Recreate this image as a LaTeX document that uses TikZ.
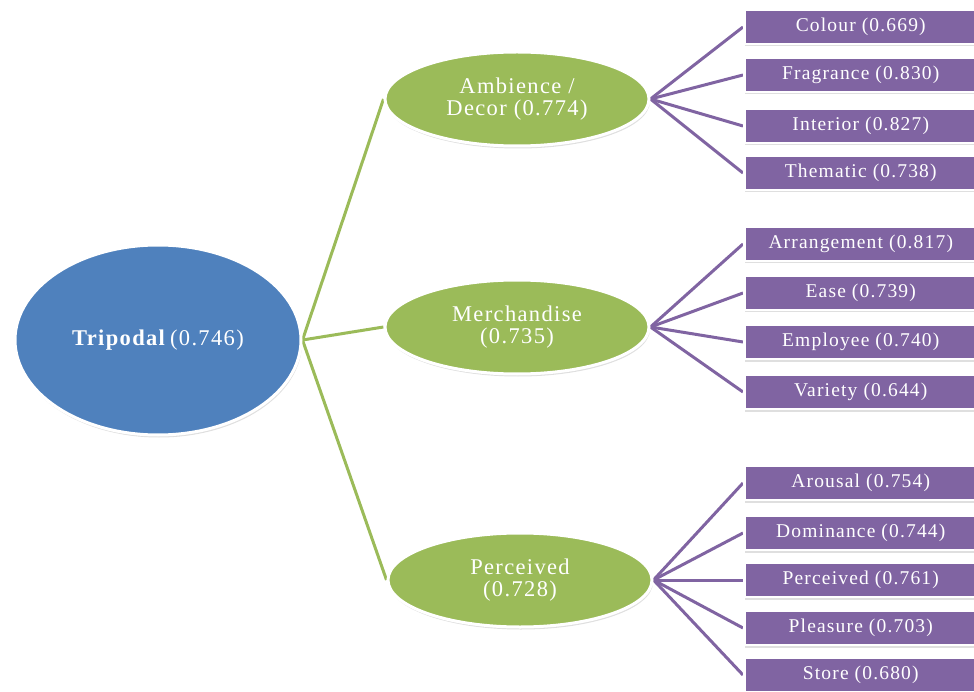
\documentclass[tikz,border=0pt]{standalone}
\usepackage{fontspec}
\setmainfont{Liberation Serif}[LetterSpace=6]
\usetikzlibrary{shapes.geometric,shadows,backgrounds}
\definecolor{cblue}{HTML}{4F81BD}
\definecolor{cgreen}{HTML}{9BBB59}
\definecolor{cpurple}{HTML}{8064A2}
\tikzset{
  shade/.style={drop shadow={opacity=0.25,shadow xshift=1pt,shadow yshift=-2.5pt}},
  rootnode/.style={ellipse,fill=cblue,draw=white,line width=3pt,shade,
    minimum width=286pt,minimum height=190pt,text=white,font=\fontsize{22.5}{24}\selectfont,inner sep=0pt},
  midnode/.style={ellipse,fill=cgreen,draw=white,line width=3pt,shade,
    minimum width=264pt,minimum height=94pt,text=white,align=center,
    font=\fontsize{22.5}{22}\selectfont,inner sep=0pt},
  leafnode/.style={rectangle,fill=cpurple,draw=white,line width=2.5pt,shade,
    minimum width=233pt,minimum height=34pt,text=white,anchor=west,
    font=\fontsize{19.5}{19}\selectfont,inner sep=0pt},
  gline/.style={draw=cgreen,line width=3pt},
  pline/.style={draw=cpurple,line width=3pt},
}
\begin{document}
\begin{tikzpicture}[x=1pt,y=-1pt]
\useasboundingbox (0,0) rectangle (974,692);
\clip (0,0) rectangle (974,692);
\node[rootnode] (trip) at (158,340) {\textbf{Tripodal}\,(0.746)};
\node[midnode] (amb) at (517,99) {Ambience /\\Decor (0.774)};
\node[midnode] (mer) at (517,327) {Merchandise\\(0.735)};
\node[midnode] (per) at (520,580) {Perceived\\(0.728)};
\node[leafnode] (c1) at (743,27) {Colour (0.669)};
\node[leafnode] (c2) at (743,75) {Fragrance (0.830)};
\node[leafnode] (c3) at (743,126) {Interior (0.827)};
\node[leafnode] (c4) at (743,173) {Thematic (0.738)};
\node[leafnode] (m1) at (743,244) {Arrangement (0.817)};
\node[leafnode] (m2) at (743,293) {Ease (0.739)};
\node[leafnode] (m3) at (743,342) {Employee (0.740)};
\node[leafnode] (m4) at (743,392) {Variety (0.644)};
\node[leafnode] (p1) at (743,483) {Arousal (0.754)};
\node[leafnode] (p2) at (743,533) {Dominance (0.744)};
\node[leafnode] (p3) at (743,580) {Perceived (0.761)};
\node[leafnode] (p4) at (743,628) {Pleasure (0.703)};
\node[leafnode] (p5) at (743,675) {Store (0.680)};
\begin{scope}[on background layer]
\foreach \t in {amb,mer,per} \draw[gline] (trip.east) -- (\t.west);
\foreach \t in {c1,c2,c3,c4} \draw[pline] (amb.east) -- (\t.west);
\foreach \t in {m1,m2,m3,m4} \draw[pline] (mer.east) -- (\t.west);
\foreach \t in {p1,p2,p3,p4,p5} \draw[pline] (per.east) -- (\t.west);
\end{scope}
\end{tikzpicture}
\end{document}
